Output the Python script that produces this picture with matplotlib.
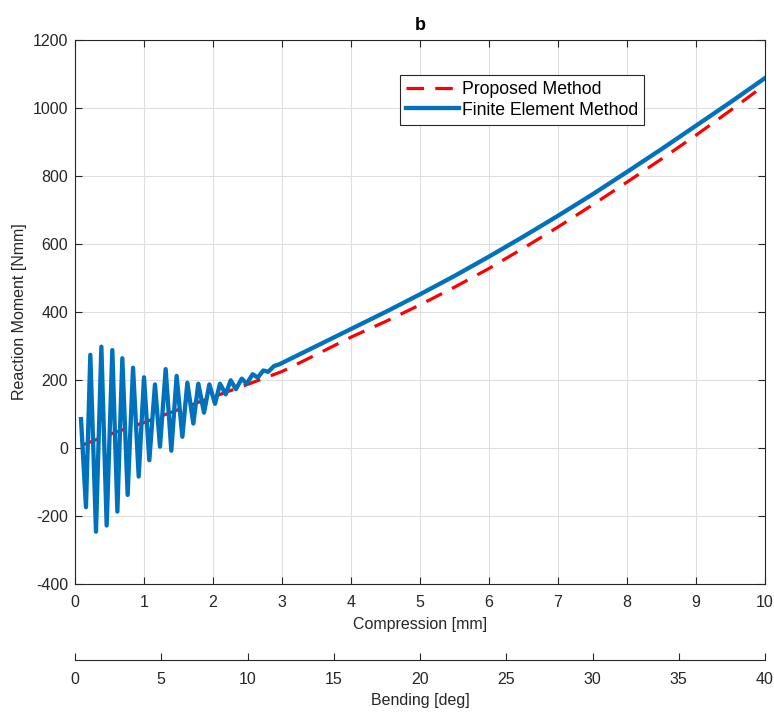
import matplotlib
matplotlib.use("Agg")
import matplotlib.pyplot as plt
from matplotlib import rc

rc('font', family='Liberation Sans', size=11.5)
rc('axes', unicode_minus=False)

AX_COLOR = "#262626"
FEM_COLOR = (0/255, 114/255, 189/255)
PM_COLOR = "red"

# Finite element result (noisy at small compression, smooth afterwards)
fem_x = [0.087, 0.159, 0.222, 0.304, 0.382, 0.459, 0.541, 0.614, 0.686, 0.763,
         0.841, 0.923, 1.0, 1.077, 1.159, 1.232, 1.314, 1.396, 1.473, 1.556,
         1.628, 1.715, 1.787, 1.870, 1.947, 2.029, 2.101, 2.184, 2.256, 2.333,
         2.416, 2.488, 2.575, 2.648, 2.729, 2.80, 2.884, 2.961, 3.04,
         3.5, 4.0, 4.5, 5.0, 5.5, 6.0, 6.5, 7.0, 7.5, 8.0, 8.5, 9.0, 9.5, 10.0]
fem_y = [85, -174, 274, -246, 298, -228, 288, -187, 264, -138,
         236, -84, 208, -36, 187, 4, 232, -8, 212, 33,
         192, 72, 189, 104, 187, 130, 189, 158, 199, 173,
         204, 189, 217, 207, 228, 224, 241, 246, 254,
         300, 350, 400, 452, 506, 563, 622, 683, 746, 812, 879, 948, 1017, 1088]

# Proposed method
pm_x = [0.1, 0.5, 1.0, 1.5, 2.0, 2.5, 3.0, 3.5, 4.0, 4.5, 5.0, 5.5, 6.0,
        6.5, 7.0, 7.5, 8.0, 8.5, 9.0, 9.5, 10.0]
pm_y = [8, 40, 75, 113, 150, 187, 225, 275, 326, 372, 421, 473, 528,
        588, 650, 715, 782, 850, 920, 993, 1068]

fig = plt.figure(figsize=(7.74, 7.16), dpi=100)
ax = fig.add_axes([75/774, 1 - 584/716, 690/774, 544/716])

ax.plot(pm_x, pm_y, color=PM_COLOR, linewidth=2.3, linestyle=(0, (5.5, 3.5)),
        label="Proposed Method", zorder=2)
ax.plot(fem_x, fem_y, color=FEM_COLOR, linewidth=3.1, label="Finite Element Method",
        zorder=3)

ax.set_xlim(0, 10)
ax.set_ylim(-400, 1200)
ax.set_xticks(range(0, 11))
ax.set_yticks(range(-400, 1201, 200))
ax.grid(True, color="#dfdfdf", linewidth=0.8)
ax.set_axisbelow(True)
ax.tick_params(direction='in', top=True, right=True, colors=AX_COLOR, length=5)
ax.tick_params(axis='x', pad=8)
ax.tick_params(axis='y', pad=5)
for sp in ax.spines.values():
  sp.set_color(AX_COLOR)
  sp.set_linewidth(0.8)

ax.set_xlabel("Compression [mm]", color=AX_COLOR, labelpad=5)
ax.set_ylabel("Reaction Moment [Nmm]", color=AX_COLOR, labelpad=4)
ax.set_title("b", fontweight='bold', fontsize=13, pad=7)

leg = ax.legend(loc='upper left', bbox_to_anchor=(0.471, 0.936), fancybox=False,
                framealpha=1, edgecolor=AX_COLOR, handlelength=3.0,
                handletextpad=0.15, borderpad=0.35, labelspacing=0.2,
                borderaxespad=0, fontsize=12.7)
leg.get_frame().set_linewidth(0.8)

# Second scale: bending angle
sec = ax.secondary_xaxis(-76/544, functions=(lambda x: x * 4, lambda x: x / 4))
sec.set_xticks(range(0, 41, 5))
sec.tick_params(direction='in', colors=AX_COLOR, length=5, pad=9)
sec.spines['bottom'].set_color(AX_COLOR)
sec.spines['bottom'].set_linewidth(0.8)
sec.set_xlabel("Bending [deg]", color=AX_COLOR, labelpad=4)

fig.savefig("out.png", dpi=100)
